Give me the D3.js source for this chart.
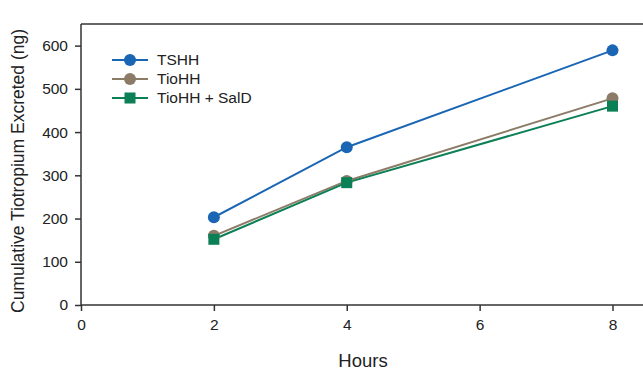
<!DOCTYPE html>
<html>
<head>
<meta charset="utf-8">
<script src="https://cdn.jsdelivr.net/npm/d3@7"></script>
<style>
  body { margin: 0; background: #fff; }
  svg { font-family: "Liberation Sans", Arial, sans-serif; }
</style>
</head>
<body>
<svg id="chart" width="643" height="370"></svg>
<script>
// data
const hours = [2, 4, 8];
const tshh = [203, 365, 589];
const tiohh = [160, 287, 478];
const tiohhSald = [152, 283, 460];
const seriesNames = ['TSHH', 'TioHH', 'TioHH + SalD'];
const xTicks = [0, 2, 4, 6, 8];
const yTicks = [0, 100, 200, 300, 400, 500, 600];

const series = [
  { name: seriesNames[0], values: tshh, color: '#1a66b5', shape: 'circle' },
  { name: seriesNames[1], values: tiohh, color: '#8c7b66', shape: 'circle' },
  { name: seriesNames[2], values: tiohhSald, color: '#0b7f55', shape: 'square' }
];

const svg = d3.select('#chart');
const mLeft = 81, mBottom = 305, mTop = 24, mRight = 643;

const x = d3.scaleLinear().domain([0, 8]).range([mLeft, 612.5]);
const y = d3.scaleLinear().domain([0, 650]).range([mBottom, mTop]);

const axisColor = '#333';

// x axis
const gx = svg.append('g')
  .attr('transform', 'translate(0,' + mBottom + ')')
  .call(d3.axisBottom(x).tickValues(xTicks).tickSize(6).tickPadding(8).tickFormat(d3.format('d')));
gx.select('.domain').remove();
gx.attr('font-family', null).attr('font-size', 15.5);
gx.selectAll('line').attr('stroke', axisColor).attr('stroke-width', 1.5);
gx.selectAll('text').attr('fill', '#222');
svg.append('line')
  .attr('x1', mLeft).attr('x2', mRight).attr('y1', mBottom).attr('y2', mBottom)
  .attr('stroke', axisColor).attr('stroke-width', 1.5);

// top frame line
svg.append('line')
  .attr('x1', mLeft).attr('x2', mRight).attr('y1', mTop).attr('y2', mTop)
  .attr('stroke', axisColor).attr('stroke-width', 1.5);

// y axis
const gy = svg.append('g')
  .attr('transform', 'translate(' + mLeft + ',0)')
  .call(d3.axisLeft(y).tickValues(yTicks).tickSize(6).tickPadding(7));
gy.select('.domain').remove();
gy.attr('font-family', null).attr('font-size', 15.5);
gy.selectAll('line').attr('stroke', axisColor).attr('stroke-width', 1.5);
gy.selectAll('text').attr('fill', '#222');
svg.append('line')
  .attr('x1', mLeft).attr('x2', mLeft).attr('y1', mTop).attr('y2', mBottom)
  .attr('stroke', axisColor).attr('stroke-width', 1.5);

// axis titles
svg.append('text')
  .attr('x', 363).attr('y', 367)
  .attr('text-anchor', 'middle')
  .attr('font-size', 18.5).attr('fill', '#222')
  .text('Hours');

svg.append('text')
  .attr('transform', 'translate(24,' + 171 + ') rotate(-90)')
  .attr('text-anchor', 'middle')
  .attr('font-size', 17.5).attr('fill', '#222')
  .text('Cumulative Tiotropium Excreted (ng)');

// lines + markers
const line = d3.line()
  .x((d, i) => x(hours[i]))
  .y(d => y(d));

function marker(g, shape, color, cx, cy) {
  if (shape === 'circle') {
    g.append('circle').attr('cx', cx).attr('cy', cy).attr('r', 6).attr('fill', color);
  } else {
    g.append('rect').attr('x', cx - 5.5).attr('y', cy - 5.5)
      .attr('width', 11).attr('height', 11).attr('fill', color);
  }
}

series.forEach(s => {
  svg.append('path')
    .datum(s.values)
    .attr('d', line)
    .attr('fill', 'none')
    .attr('stroke', s.color)
    .attr('stroke-width', 2);
});
series.forEach(s => {
  const g = svg.append('g');
  s.values.forEach((v, i) => marker(g, s.shape, s.color, x(hours[i]), y(v)));
});

// legend
const legend = svg.append('g');
series.forEach((s, i) => {
  const ly = 60 + i * 19;
  legend.append('line')
    .attr('x1', 112).attr('x2', 148).attr('y1', ly).attr('y2', ly)
    .attr('stroke', s.color).attr('stroke-width', 2);
  marker(legend, s.shape, s.color, 130, ly);
  legend.append('text')
    .attr('x', 157).attr('y', ly + 5)
    .attr('font-size', 15.5).attr('fill', '#222')
    .text(s.name);
});
</script>
</body>
</html>
